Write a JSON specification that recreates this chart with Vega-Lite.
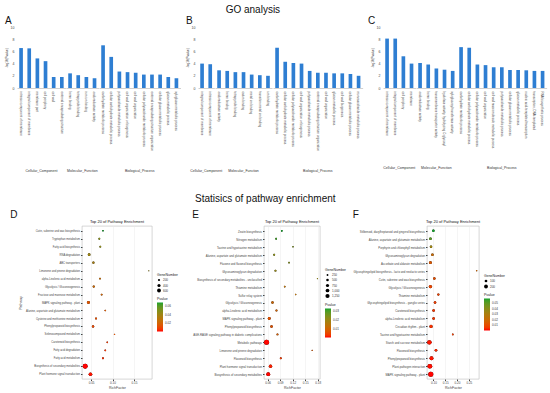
{
  "$schema": "https://vega.github.io/schema/vega-lite/v6.json",
  "background": "white",
  "padding": {"left": 5, "top": 5, "right": 2, "bottom": 2},
  "config": {
    "font": "Liberation Sans",
    "view": {"stroke": null},
    "title": {"fontWeight": "normal", "color": "#111"},
    "axis": {"labelColor": "#444", "titleColor": "#444", "titleFontWeight": "normal"},
    "header": {"labelColor": "#333"},
    "legend": {"titleFontWeight": "normal", "titleColor": "#222", "labelColor": "#333", "offset": 5, "layout": {"right": {"anchor": "middle", "direction": "vertical", "margin": 4}}}
  },
  "spacing": 20,
  "resolve": {"scale": {"color": "independent", "size": "independent"}, "legend": {"color": "independent", "size": "independent"}},
  "vconcat": [
    {
      "title": {"text": "GO analysis", "fontSize": 10, "anchor": "middle", "dx": -23, "offset": 1},
      "spacing": 5,
      "hconcat": [
        {
          "title": {"text": "A", "anchor": "start", "fontSize": 10, "frame": "bounds", "offset": -4, "dy": -3},
          "data": {"values": [
            {"group": "Cellular_Component", "term": "intrinsic component of membrane", "value": 6.55},
            {"group": "Cellular_Component", "term": "integral component of membrane", "value": 6.5},
            {"group": "Cellular_Component", "term": "membrane part", "value": 4.85},
            {"group": "Cellular_Component", "term": "cell periphery", "value": 4.4},
            {"group": "Cellular_Component", "term": "cell wall", "value": 1.8},
            {"group": "Cellular_Component", "term": "external encapsulating structure", "value": 1.8},
            {"group": "Molecular_Function", "term": "heme binding", "value": 2.4},
            {"group": "Molecular_Function", "term": "tetrapyrrole binding", "value": 2.1},
            {"group": "Molecular_Function", "term": "iron ion binding", "value": 1.8},
            {"group": "Molecular_Function", "term": "oxidoreductase activity", "value": 1.6},
            {"group": "Biological_Process", "term": "carbohydrate metabolic process", "value": 7.0},
            {"group": "Biological_Process", "term": "cellular carbohydrate metabolic process", "value": 5.1},
            {"group": "Biological_Process", "term": "polysaccharide metabolic process", "value": 2.7},
            {"group": "Biological_Process", "term": "cell wall organization or biogenesis", "value": 2.6},
            {"group": "Biological_Process", "term": "cell wall organization", "value": 2.5},
            {"group": "Biological_Process", "term": "cellular polysaccharide metabolic process", "value": 2.2},
            {"group": "Biological_Process", "term": "external encapsulating structure organization", "value": 2.2},
            {"group": "Biological_Process", "term": "cellular glucan metabolic process", "value": 2.2},
            {"group": "Biological_Process", "term": "glucan metabolic process", "value": 1.8},
            {"group": "Biological_Process", "term": "xyloglucan metabolic process", "value": 1.6}
          ]},
          "facet": {"column": {"field": "group", "sort": ["Cellular_Component", "Molecular_Function", "Biological_Process"], "header": {"title": null, "labelOrient": "bottom", "labelFontSize": 3.5, "labelPadding": 18}}},
          "spacing": {"column": 0},
          "resolve": {"scale": {"x": "independent"}},
          "spec": {
            "width": {"step": 8.15},
            "height": 61,
            "mark": {"type": "bar", "color": "#2e7ed2"},
            "encoding": {
              "x": {"field": "term", "type": "nominal", "sort": null, "scale": {"paddingInner": 0.55, "paddingOuter": 0.275}, "axis": {"title": null, "labelAngle": 90, "labelFontSize": 3, "labelLimit": 0, "ticks": false, "domainColor": "#d0d0d0", "labelPadding": 3}},
              "y": {"field": "value", "type": "quantitative", "scale": {"domain": [0, 10]}, "axis": {"title": "-log10(Pvalue)", "titleFontSize": 3, "titlePadding": 2, "labelFontSize": 3.5, "values": [0, 2, 4, 6, 8, 10], "grid": false, "ticks": false, "domain": false, "labelPadding": 3}}
            }
          }
        },
        {
          "title": {"text": "B", "anchor": "start", "fontSize": 10, "frame": "bounds", "offset": -4, "dy": -3},
          "data": {"values": [
            {"group": "Cellular_Component", "term": "integral component of membrane", "value": 4.0},
            {"group": "Cellular_Component", "term": "intrinsic component of membrane", "value": 3.9},
            {"group": "Molecular_Function", "term": "oxidoreductase activity", "value": 2.9},
            {"group": "Molecular_Function", "term": "heme binding", "value": 2.8},
            {"group": "Molecular_Function", "term": "tetrapyrrole binding", "value": 2.6},
            {"group": "Molecular_Function", "term": "cation binding", "value": 2.6},
            {"group": "Molecular_Function", "term": "metal ion binding", "value": 2.2},
            {"group": "Molecular_Function", "term": "transition metal ion binding", "value": 2.1},
            {"group": "Molecular_Function", "term": "ion binding", "value": 2.0},
            {"group": "Biological_Process", "term": "carbohydrate metabolic process", "value": 6.6},
            {"group": "Biological_Process", "term": "cellular carbohydrate metabolic process", "value": 4.3},
            {"group": "Biological_Process", "term": "cellular polysaccharide metabolic process", "value": 4.1},
            {"group": "Biological_Process", "term": "cell wall organization or biogenesis", "value": 4.0},
            {"group": "Biological_Process", "term": "polysaccharide metabolic process", "value": 2.8},
            {"group": "Biological_Process", "term": "external encapsulating structure organization", "value": 2.5},
            {"group": "Biological_Process", "term": "cell wall organization", "value": 2.5},
            {"group": "Biological_Process", "term": "glucan metabolic process", "value": 2.4},
            {"group": "Biological_Process", "term": "cell wall biogenesis", "value": 2.4},
            {"group": "Biological_Process", "term": "cellular glucan metabolic process", "value": 2.3},
            {"group": "Biological_Process", "term": "monosaccharide metabolic process", "value": 2.0}
          ]},
          "facet": {"column": {"field": "group", "sort": ["Cellular_Component", "Molecular_Function", "Biological_Process"], "header": {"title": null, "labelOrient": "bottom", "labelFontSize": 3.5, "labelPadding": 18}}},
          "spacing": {"column": 0},
          "resolve": {"scale": {"x": "independent"}},
          "spec": {
            "width": {"step": 8.15},
            "height": 61,
            "mark": {"type": "bar", "color": "#2e7ed2"},
            "encoding": {
              "x": {"field": "term", "type": "nominal", "sort": null, "scale": {"paddingInner": 0.55, "paddingOuter": 0.275}, "axis": {"title": null, "labelAngle": 90, "labelFontSize": 3, "labelLimit": 0, "ticks": false, "domainColor": "#d0d0d0", "labelPadding": 3}},
              "y": {"field": "value", "type": "quantitative", "scale": {"domain": [0, 10]}, "axis": {"title": "-log10(Pvalue)", "titleFontSize": 3, "titlePadding": 2, "labelFontSize": 3.5, "values": [0, 2, 4, 6, 8, 10], "grid": false, "ticks": false, "domain": false, "labelPadding": 3}}
            }
          }
        },
        {
          "title": {"text": "C", "anchor": "start", "fontSize": 10, "frame": "bounds", "offset": -4, "dy": -3, "dx": -3},
          "data": {"values": [
            {"group": "Cellular_Component", "term": "intrinsic component of membrane", "value": 8.1},
            {"group": "Cellular_Component", "term": "integral component of membrane", "value": 8.1},
            {"group": "Cellular_Component", "term": "cell periphery", "value": 5.2},
            {"group": "Cellular_Component", "term": "membrane", "value": 4.0},
            {"group": "Molecular_Function", "term": "oxidoreductase activity", "value": 4.1},
            {"group": "Molecular_Function", "term": "heme binding", "value": 3.85},
            {"group": "Molecular_Function", "term": "transmembrane transporter activity", "value": 3.2},
            {"group": "Molecular_Function", "term": "hydrolase activity, hydrolyzing O-glycosyl", "value": 3.0},
            {"group": "Molecular_Function", "term": "xyloglucosyl transferase activity", "value": 2.8},
            {"group": "Biological_Process", "term": "carbohydrate metabolic process", "value": 6.7},
            {"group": "Biological_Process", "term": "cellular carbohydrate metabolic process", "value": 6.6},
            {"group": "Biological_Process", "term": "cellular polysaccharide metabolic process", "value": 3.85},
            {"group": "Biological_Process", "term": "cell wall organization", "value": 3.75},
            {"group": "Biological_Process", "term": "cell wall macromolecule metabolic process", "value": 3.4},
            {"group": "Biological_Process", "term": "polysaccharide metabolic process", "value": 3.4},
            {"group": "Biological_Process", "term": "cellular glucan metabolic process", "value": 2.95},
            {"group": "Biological_Process", "term": "glucan metabolic process", "value": 2.95},
            {"group": "Biological_Process", "term": "nucleic acid-templated transcription", "value": 2.9},
            {"group": "Biological_Process", "term": "transcription, DNA-templated", "value": 2.8},
            {"group": "Biological_Process", "term": "RNA biosynthetic process", "value": 2.8}
          ]},
          "facet": {"column": {"field": "group", "sort": ["Cellular_Component", "Molecular_Function", "Biological_Process"], "header": {"title": null, "labelOrient": "bottom", "labelFontSize": 3.5, "labelPadding": 18}}},
          "spacing": {"column": 0},
          "resolve": {"scale": {"x": "independent"}},
          "spec": {
            "width": {"step": 8.15},
            "height": 61,
            "mark": {"type": "bar", "color": "#2e7ed2"},
            "encoding": {
              "x": {"field": "term", "type": "nominal", "sort": null, "scale": {"paddingInner": 0.55, "paddingOuter": 0.275}, "axis": {"title": null, "labelAngle": 90, "labelFontSize": 3, "labelLimit": 0, "ticks": false, "domainColor": "#d0d0d0", "labelPadding": 3}},
              "y": {"field": "value", "type": "quantitative", "scale": {"domain": [0, 10]}, "axis": {"title": "-log10(Pvalue)", "titleFontSize": 3, "titlePadding": 2, "labelFontSize": 3.5, "values": [0, 2, 4, 6, 8, 10], "grid": false, "ticks": false, "domain": false, "labelPadding": 3}}
            }
          }
        }
      ]
    },
    {
      "title": {"text": "Statisics of pathway enrichment", "fontSize": 10, "anchor": "middle", "offset": 6, "dx": 7},
      "spacing": 0,
      "resolve": {"scale": {"color": "independent", "size": "independent"}, "legend": {"color": "independent", "size": "independent"}},
      "hconcat": [
        {
          "width": 1,
          "height": 1,
          "data": {"values": [{"label": "D"}]},
          "mark": {"type": "text", "fontSize": 10, "align": "right", "baseline": "bottom", "color": "#111", "dy": -7},
          "encoding": {"text": {"field": "label", "type": "nominal"}}
        },
        {
          "spacing": 12,
          "resolve": {"scale": {"color": "independent", "size": "independent"}, "legend": {"color": "independent", "size": "independent"}},
          "hconcat": [
            {
              "title": {"text": "Top 20 of Pathway Enrichment", "fontSize": 4, "offset": 2},
              "width": 70,
              "height": 153,
              "view": {"stroke": "#bbbbbb", "strokeWidth": 0.6},
              "data": {"values": [
                {"pathway": "Cutin, suberine and wax biosynthesis", "rich": 0.0777, "genes": 110, "p": 0.068},
                {"pathway": "Tryptophan metabolism", "rich": 0.0692, "genes": 130, "p": 0.048},
                {"pathway": "Fatty acid biosynthesis", "rich": 0.0715, "genes": 130, "p": 0.045},
                {"pathway": "RNA degradation", "rich": 0.0454, "genes": 280, "p": 0.04},
                {"pathway": "ABC transporters", "rich": 0.0554, "genes": 200, "p": 0.036},
                {"pathway": "Limonene and pinene degradation", "rich": 0.1846, "genes": 40, "p": 0.042},
                {"pathway": "alpha-Linolenic acid metabolism", "rich": 0.0708, "genes": 130, "p": 0.024},
                {"pathway": "Glycolysis / Gluconeogenesis", "rich": 0.0562, "genes": 200, "p": 0.022},
                {"pathway": "Fructose and mannose metabolism", "rich": 0.0746, "genes": 130, "p": 0.02},
                {"pathway": "MAPK signaling pathway - plant", "rich": 0.0438, "genes": 350, "p": 0.014},
                {"pathway": "Alanine, aspartate and glutamate metabolism", "rich": 0.0831, "genes": 110, "p": 0.015},
                {"pathway": "Cysteine and methionine metabolism", "rich": 0.0615, "genes": 170, "p": 0.012},
                {"pathway": "Phenylpropanoid biosynthesis", "rich": 0.0546, "genes": 220, "p": 0.01},
                {"pathway": "Selenocompound metabolism", "rich": 0.1046, "genes": 70, "p": 0.013},
                {"pathway": "Carotenoid biosynthesis", "rich": 0.0877, "genes": 110, "p": 0.006},
                {"pathway": "Fatty acid degradation", "rich": 0.0831, "genes": 120, "p": 0.005},
                {"pathway": "Fatty acid metabolism", "rich": 0.0777, "genes": 150, "p": 0.004},
                {"pathway": "Biosynthesis of secondary metabolites", "rich": 0.0362, "genes": 950, "p": 0.0001},
                {"pathway": "Plant hormone signal transduction", "rich": 0.0485, "genes": 500, "p": 0.001}
              ]},
              "encoding": {
                "y": {"field": "pathway", "type": "nominal", "sort": null, "scale": {"type": "point", "padding": 0.6}, "axis": {"title": "Pathway", "titleFontSize": 3.5, "titlePadding": 3, "labelFontSize": 2.7, "labelLimit": 0, "tickSize": 1.5, "tickColor": "#444", "domain": false, "gridColor": "#ebebeb", "gridWidth": 0.5, "labelPadding": 1}},
                "x": {"field": "rich", "type": "quantitative", "scale": {"domain": [0.0288, 0.192], "nice": false, "zero": false}, "axis": {"title": "RichFactor", "titleFontSize": 3.5, "titlePadding": 1, "labelFontSize": 3, "values": [0.05, 0.1, 0.15], "format": ".2f", "tickSize": 1.5, "tickColor": "#444", "domain": false, "gridColor": "#ebebeb", "gridWidth": 0.5, "labelPadding": 1}}
              },
              "layer": [
                {
                  "mark": {"type": "point", "filled": true, "opacity": 1, "color": "black"},
                  "encoding": {
                    "size": {"field": "genes", "type": "quantitative", "scale": {"domain": [0, 1000], "range": [0, 25]}, "legend": {"title": "GeneNumber", "values": [200, 400, 600], "titleFontSize": 3.5, "labelFontSize": 3, "symbolFillColor": "black", "symbolStrokeColor": "black", "symbolStrokeWidth": 0, "rowPadding": 1, "titlePadding": 2, "labelOffset": 2}}
                  }
                },
                {
                  "mark": {"type": "point", "filled": true, "opacity": 1},
                  "encoding": {
                    "size": {"field": "genes", "type": "quantitative", "scale": {"domain": [0, 1000], "range": [0, 25]}, "legend": {"title": "GeneNumber", "values": [200, 400, 600], "titleFontSize": 3.5, "labelFontSize": 3, "symbolFillColor": "black", "symbolStrokeColor": "black", "symbolStrokeWidth": 0, "rowPadding": 1, "titlePadding": 2, "labelOffset": 2}},
                    "color": {"field": "p", "type": "quantitative", "scale": {"domain": [0, 0.068], "range": ["#ff0000", "#12a12a"], "interpolate": "lab"}, "legend": {"title": "Pvalue", "direction": "vertical", "values": [0.02, 0.04, 0.06], "format": ".2f", "titleFontSize": 3.5, "labelFontSize": 3, "gradientLength": 29, "gradientThickness": 6, "titlePadding": 2, "labelOffset": 2, "gradientStrokeWidth": 0}}
                  }
                }
              ]
            },
            {
              "spacing": 4,
              "resolve": {"scale": {"color": "independent", "size": "independent"}, "legend": {"color": "independent", "size": "independent"}},
              "hconcat": [
                {
                  "title": {"text": "E", "anchor": "start", "fontSize": 10, "frame": "bounds", "offset": 0},
                  "resolve": {"scale": {"color": "independent", "size": "independent"}, "legend": {"color": "independent", "size": "independent"}},
                  "vconcat": [
                    {
                      "title": {"text": "Top 20 of Pathway Enrichment", "fontSize": 4, "offset": 2},
                      "width": 56,
                      "height": 153,
                      "view": {"stroke": "#bbbbbb", "strokeWidth": 0.6},
                      "data": {"values": [
                        {"pathway": "Zeatin biosynthesis", "rich": 0.094, "genes": 220, "p": 0.032},
                        {"pathway": "Nitrogen metabolism", "rich": 0.0805, "genes": 220, "p": 0.03},
                        {"pathway": "Taurine and hypotaurine metabolism", "rich": 0.1208, "genes": 150, "p": 0.024},
                        {"pathway": "Alanine, aspartate and glutamate metabolism", "rich": 0.0758, "genes": 280, "p": 0.022},
                        {"pathway": "Flavone and flavonol biosynthesis", "rich": 0.1113, "genes": 180, "p": 0.023},
                        {"pathway": "Glycosaminoglycan degradation", "rich": 0.0789, "genes": 280, "p": 0.02},
                        {"pathway": "Biosynthesis of secondary metabolites - unclassified", "rich": 0.1792, "genes": 90, "p": 0.02},
                        {"pathway": "Thiamine metabolism", "rich": 0.101, "genes": 200, "p": 0.013},
                        {"pathway": "Sulfur relay system", "rich": 0.1271, "genes": 150, "p": 0.013},
                        {"pathway": "Glycolysis / Gluconeogenesis", "rich": 0.0718, "genes": 400, "p": 0.01},
                        {"pathway": "alpha-Linolenic acid metabolism", "rich": 0.0813, "genes": 300, "p": 0.009},
                        {"pathway": "MAPK signaling pathway - plant", "rich": 0.064, "genes": 600, "p": 0.006},
                        {"pathway": "Phenylpropanoid biosynthesis", "rich": 0.0695, "genes": 450, "p": 0.006},
                        {"pathway": "AGE-RAGE signaling pathway in diabetic complications", "rich": 0.0837, "genes": 280, "p": 0.008},
                        {"pathway": "Metabolic pathways", "rich": 0.0576, "genes": 1800, "p": 0.0001},
                        {"pathway": "Limonene and pinene degradation", "rich": 0.1666, "genes": 120, "p": 0.007},
                        {"pathway": "Flavonoid biosynthesis", "rich": 0.0916, "genes": 280, "p": 0.003},
                        {"pathway": "Plant hormone signal transduction", "rich": 0.0671, "genes": 760, "p": 0.001},
                        {"pathway": "Biosynthesis of secondary metabolites", "rich": 0.0616, "genes": 1030, "p": 0.0001}
                      ]},
                      "encoding": {
                        "y": {"field": "pathway", "type": "nominal", "sort": null, "scale": {"type": "point", "padding": 0.6}, "axis": {"title": null, "labelFontSize": 2.8, "labelLimit": 0, "tickSize": 1.5, "tickColor": "#444", "domain": false, "gridColor": "#ebebeb", "gridWidth": 0.5, "labelPadding": 1}},
                        "x": {"field": "rich", "type": "quantitative", "scale": {"domain": [0.0515, 0.1853], "nice": false, "zero": false}, "axis": {"title": "RichFactor", "titleFontSize": 3.5, "titlePadding": 1, "labelFontSize": 3, "values": [0.06, 0.09, 0.12, 0.15, 0.18], "format": ".2f", "tickSize": 1.5, "tickColor": "#444", "domain": false, "gridColor": "#ebebeb", "gridWidth": 0.5, "labelPadding": 1}}
                      },
                      "layer": [
                        {
                          "mark": {"type": "point", "filled": true, "opacity": 1, "color": "black"},
                          "encoding": {
                            "size": {"field": "genes", "type": "quantitative", "scale": {"domain": [0, 2000], "range": [0, 28]}, "legend": {"title": "GeneNumber", "values": [250, 500, 750, 1000, 1250], "titleFontSize": 3.5, "labelFontSize": 3, "symbolFillColor": "black", "symbolStrokeColor": "black", "symbolStrokeWidth": 0, "rowPadding": 1, "titlePadding": 2, "labelOffset": 2}}
                          }
                        },
                        {
                          "mark": {"type": "point", "filled": true, "opacity": 1},
                          "encoding": {
                            "size": {"field": "genes", "type": "quantitative", "scale": {"domain": [0, 2000], "range": [0, 28]}, "legend": {"title": "GeneNumber", "values": [250, 500, 750, 1000, 1250], "titleFontSize": 3.5, "labelFontSize": 3, "symbolFillColor": "black", "symbolStrokeColor": "black", "symbolStrokeWidth": 0, "rowPadding": 1, "titlePadding": 2, "labelOffset": 2}},
                            "color": {"field": "p", "type": "quantitative", "scale": {"domain": [0, 0.032], "range": ["#ff0000", "#12a12a"], "interpolate": "lab"}, "legend": {"title": "Pvalue", "direction": "vertical", "values": [0.01, 0.02, 0.03], "format": ".2f", "titleFontSize": 3.5, "labelFontSize": 3, "gradientLength": 29, "gradientThickness": 6, "titlePadding": 2, "labelOffset": 2, "gradientStrokeWidth": 0}}
                          }
                        }
                      ]
                    }
                  ]
                },
                {
                  "title": {"text": "F", "anchor": "start", "fontSize": 10, "frame": "bounds", "offset": 0},
                  "resolve": {"scale": {"color": "independent", "size": "independent"}, "legend": {"color": "independent", "size": "independent"}},
                  "vconcat": [
                    {
                      "title": {"text": "Top 20 of Pathway Enrichment", "fontSize": 4, "offset": 2},
                      "width": 52,
                      "height": 153,
                      "view": {"stroke": "#bbbbbb", "strokeWidth": 0.6},
                      "data": {"values": [
                        {"pathway": "Stilbenoid, diarylheptanoid and gingerol biosynthesis", "rich": 0.1, "genes": 75, "p": 0.058},
                        {"pathway": "Alanine, aspartate and glutamate metabolism", "rich": 0.0875, "genes": 95, "p": 0.05},
                        {"pathway": "Porphyrin and chlorophyll metabolism", "rich": 0.09, "genes": 80, "p": 0.034},
                        {"pathway": "Glycosaminoglycan degradation", "rich": 0.096, "genes": 85, "p": 0.02},
                        {"pathway": "Ascorbate and aldarate metabolism", "rich": 0.0875, "genes": 115, "p": 0.013},
                        {"pathway": "Glycosphingolipid biosynthesis - lacto and neolacto series", "rich": 0.283, "genes": 25, "p": 0.018},
                        {"pathway": "Cutin, suberine and wax biosynthesis", "rich": 0.104, "genes": 80, "p": 0.01},
                        {"pathway": "Glycolysis / Gluconeogenesis", "rich": 0.0875, "genes": 140, "p": 0.008},
                        {"pathway": "Thiamine metabolism", "rich": 0.121, "genes": 70, "p": 0.007},
                        {"pathway": "Glycosphingolipid biosynthesis - ganglio series", "rich": 0.107, "genes": 80, "p": 0.006},
                        {"pathway": "Carotenoid biosynthesis", "rich": 0.101, "genes": 85, "p": 0.005},
                        {"pathway": "alpha-Linolenic acid metabolism", "rich": 0.101, "genes": 85, "p": 0.005},
                        {"pathway": "Circadian rhythm - plant", "rich": 0.09, "genes": 140, "p": 0.004},
                        {"pathway": "Taurine and hypotaurine metabolism", "rich": 0.182, "genes": 40, "p": 0.006},
                        {"pathway": "Starch and sucrose metabolism", "rich": 0.083, "genes": 260, "p": 0.001},
                        {"pathway": "Flavonoid biosynthesis", "rich": 0.111, "genes": 90, "p": 0.003},
                        {"pathway": "Phenylpropanoid biosynthesis", "rich": 0.092, "genes": 195, "p": 0.001},
                        {"pathway": "Plant-pathogen interaction", "rich": 0.085, "genes": 300, "p": 0.0005},
                        {"pathway": "MAPK signaling pathway - plant", "rich": 0.089, "genes": 340, "p": 0.0001}
                      ]},
                      "encoding": {
                        "y": {"field": "pathway", "type": "nominal", "sort": null, "scale": {"type": "point", "padding": 0.6}, "axis": {"title": null, "labelFontSize": 2.8, "labelLimit": 0, "tickSize": 1.5, "tickColor": "#444", "domain": false, "gridColor": "#ebebeb", "gridWidth": 0.5, "labelPadding": 1}},
                        "x": {"field": "rich", "type": "quantitative", "scale": {"domain": [0.073, 0.293], "nice": false, "zero": false}, "axis": {"title": "RichFactor", "titleFontSize": 3.5, "titlePadding": 1, "labelFontSize": 3, "values": [0.1, 0.15, 0.2, 0.25], "format": ".2f", "tickSize": 1.5, "tickColor": "#444", "domain": false, "gridColor": "#ebebeb", "gridWidth": 0.5, "labelPadding": 1}}
                      },
                      "layer": [
                        {
                          "mark": {"type": "point", "filled": true, "opacity": 1, "color": "black"},
                          "encoding": {
                            "size": {"field": "genes", "type": "quantitative", "scale": {"domain": [0, 400], "range": [0, 30]}, "legend": {"title": "GeneNumber", "values": [100, 200], "titleFontSize": 3.5, "labelFontSize": 3, "symbolFillColor": "black", "symbolStrokeColor": "black", "symbolStrokeWidth": 0, "rowPadding": 1, "titlePadding": 2, "labelOffset": 2}}
                          }
                        },
                        {
                          "mark": {"type": "point", "filled": true, "opacity": 1},
                          "encoding": {
                            "size": {"field": "genes", "type": "quantitative", "scale": {"domain": [0, 400], "range": [0, 30]}, "legend": {"title": "GeneNumber", "values": [100, 200], "titleFontSize": 3.5, "labelFontSize": 3, "symbolFillColor": "black", "symbolStrokeColor": "black", "symbolStrokeWidth": 0, "rowPadding": 1, "titlePadding": 2, "labelOffset": 2}},
                            "color": {"field": "p", "type": "quantitative", "scale": {"domain": [0, 0.058], "range": ["#ff0000", "#12a12a"], "interpolate": "lab"}, "legend": {"title": "Pvalue", "direction": "vertical", "values": [0.01, 0.02, 0.03, 0.04, 0.05], "format": ".2f", "titleFontSize": 3.5, "labelFontSize": 3, "gradientLength": 32, "gradientThickness": 6, "titlePadding": 2, "labelOffset": 2, "gradientStrokeWidth": 0}}
                          }
                        }
                      ]
                    }
                  ]
                }
              ]
            }
          ]
        }
      ]
    }
  ]
}
